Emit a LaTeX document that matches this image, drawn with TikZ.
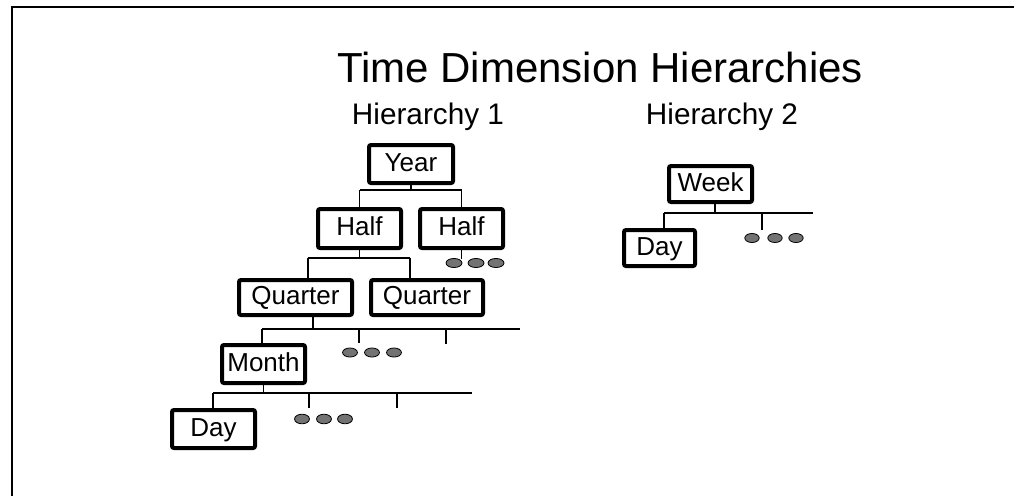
\documentclass[tikz,border=0pt]{standalone}
\usepackage{fontspec}
\setmainfont{Liberation Sans}
\begin{document}
\begin{tikzpicture}[x=0.75pt,y=-0.75pt,
  lvl/.style={draw, line width=3pt, rounded corners=1.5pt, inner sep=0pt,
    font=\fontsize{19.5}{21}\selectfont, text height=14pt, text depth=3.5pt},
  link/.style={line width=1.4pt},
  frameline/.style={line width=1.5pt},
  more/.style={draw=black, fill=black!55, line width=0.6pt}]
\useasboundingbox (0,0) rectangle (1014,496);
% page frame (top and left edges only)
\draw[frameline] (12,496) -- (12,6.5) -- (1014,6.5);

% headings
\node[font=\fontsize{31.5}{36}\selectfont, anchor=base] (title) at (600,82) {Time Dimension Hierarchies};
\node[font=\fontsize{22.3}{26}\selectfont, anchor=base] (hone) at (428,124) {Hierarchy 1};
\node[font=\fontsize{22.3}{26}\selectfont, anchor=base] (htwo) at (722,124) {Hierarchy 2};

% hierarchy 1 levels
\node[lvl, minimum width=63pt, minimum height=28.5pt] (year) at (411,164) {Year};
\node[lvl, minimum width=62.25pt, minimum height=29.25pt] (half1) at (359.5,228.5) {Half};
\node[lvl, minimum width=62.25pt, minimum height=29.25pt] (half2) at (461.5,228.5) {Half};
\node[lvl, minimum width=84.75pt, minimum height=26.25pt] (quarter1) at (295.5,297.5) {Quarter};
\node[lvl, minimum width=84pt, minimum height=26.25pt] (quarter2) at (427,297.5) {Quarter};
\node[lvl, minimum width=62.25pt, minimum height=28.5pt] (month) at (263.5,364) {Month};
\node[lvl, minimum width=62.25pt, minimum height=28.5pt] (day1) at (213.5,429) {Day};

% hierarchy 2 levels
\node[lvl, minimum width=62.25pt, minimum height=27pt] (week) at (710.5,184) {Week};
\node[lvl, minimum width=53.25pt, minimum height=27pt] (day2) at (659.5,248) {Day};

% bus coordinates
\coordinate (ya) at (360,190);
\coordinate (qa) at (308,258);
\coordinate (qb) at (410,258);
\coordinate (ma) at (262,329);
\coordinate (mb) at (359,329);
\coordinate (mc) at (446,329);
\coordinate (mend) at (520,329);
\coordinate (da) at (213,393);
\coordinate (db) at (309,393);
\coordinate (dc) at (397,393);
\coordinate (dend) at (472,393);
\coordinate (wa) at (664,213);
\coordinate (wb) at (762,213);
\coordinate (wend) at (813,213);
\coordinate (qdrop) at ([xshift=13pt]quarter1.south);
\coordinate (wdrop) at ([xshift=3.4pt]week.south);

% Year -> Half
\draw[link] (year.south) -- (year.south |- ya);
\draw[link] (half1.north |- ya) -- (half2.north |- ya);
\draw[link] (half1.north |- ya) -- (half1.north);
\draw[link] (half2.north |- ya) -- (half2.north);

% Half -> Quarter
\draw[link] (half1.south) -- (half1.south |- qa);
\draw[link] (qa) -- (qb);
\draw[link] (qa) -- (qa |- quarter1.north);
\draw[link] (qb) -- (qb |- quarter2.north);
\draw[link] (half2.south) -- ++(0,9);

% Quarter -> Month
\draw[link] (qdrop) -- (qdrop |- ma);
\draw[link] (ma) -- (mend);
\draw[link] (ma) -- (ma |- month.north);
\draw[link] (mb) -- ++(0,14);
\draw[link] (mc) -- ++(0,15);

% Month -> Day
\draw[link] (month.south) -- (month.south |- da);
\draw[link] (da) -- (dend);
\draw[link] (da) -- (da |- day1.north);
\draw[link] (db) -- ++(0,15);
\draw[link] (dc) -- ++(0,15);

% Week -> Day
\draw[link] (wdrop) -- (wdrop |- wa);
\draw[link] (wa) -- (wend);
\draw[link] (wa) -- (wa |- day2.north);
\draw[link] (wb) -- ++(0,17);

% continuation marks
\foreach \cx in {454,476,496} \draw[more] (\cx,263) ellipse [x radius=6pt, y radius=3.4pt];
\foreach \cx in {350,372,394} \draw[more] (\cx,352.5) ellipse [x radius=5.6pt, y radius=3.4pt];
\foreach \cx in {302,324,345} \draw[more] (\cx,419) ellipse [x radius=5.6pt, y radius=3.6pt];
\foreach \cx in {752,775,796} \draw[more] (\cx,238) ellipse [x radius=5.4pt, y radius=3.4pt];
\end{tikzpicture}
\end{document}
